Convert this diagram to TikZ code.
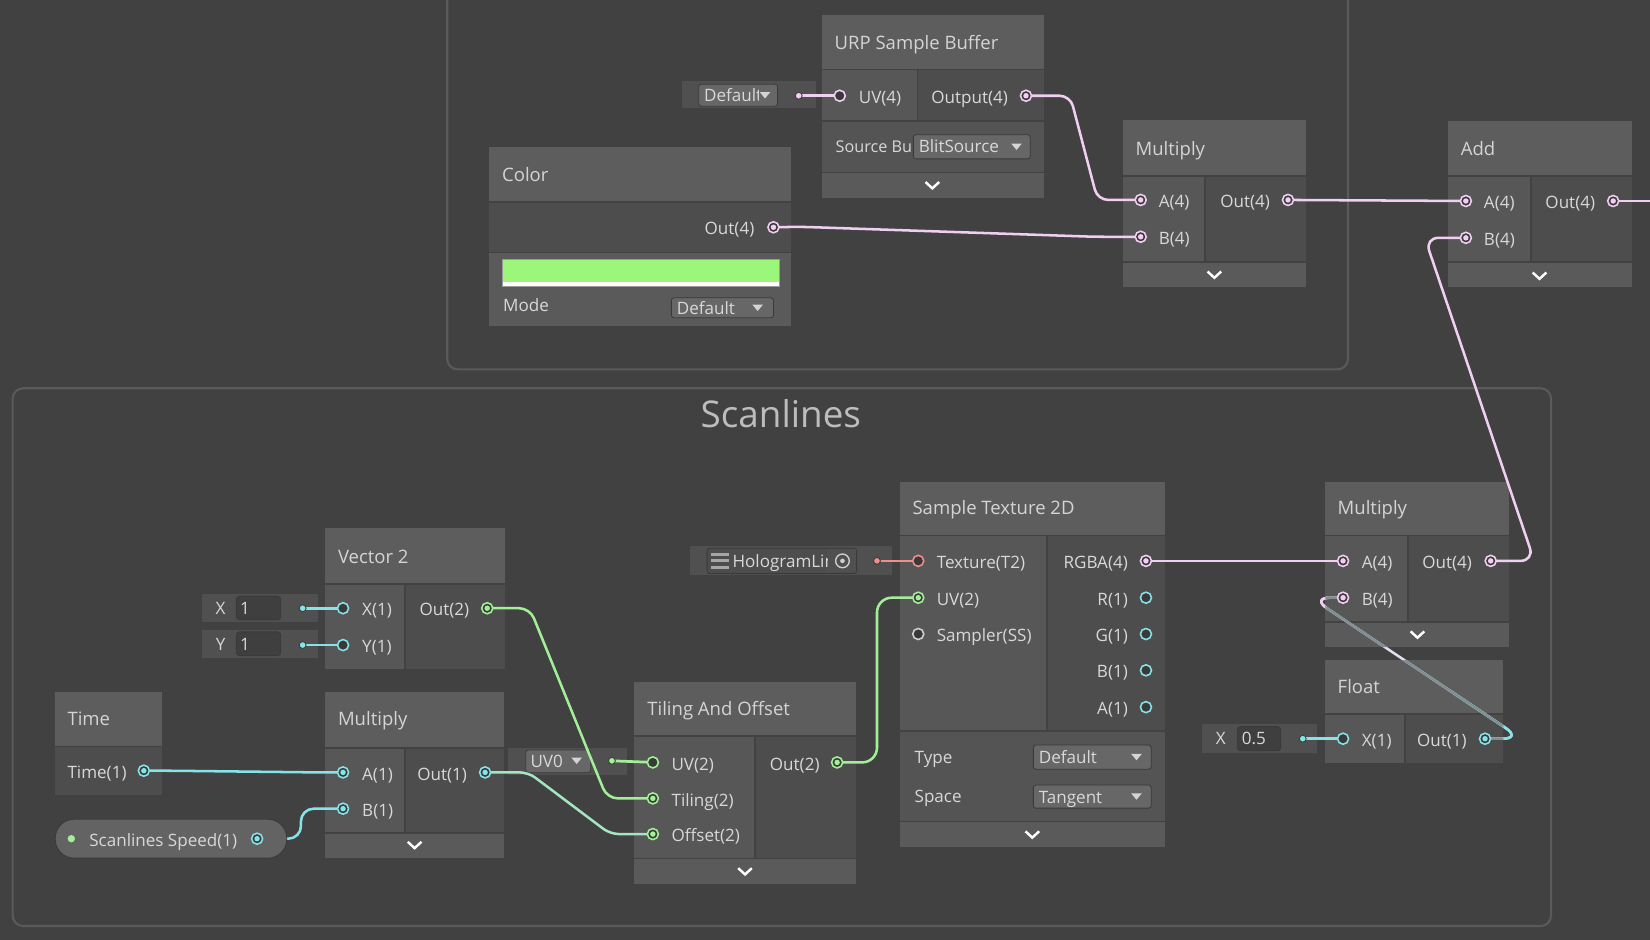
\documentclass[tikz,border=0pt]{standalone}
\usepackage{fontspec}
\setmainfont{Open Sans}
\definecolor{canvas}{HTML}{414141}
\definecolor{grpc}{HTML}{5A5A5A}
\definecolor{ttlf}{HTML}{5D5D5D}
\definecolor{inf}{HTML}{575757}
\definecolor{outf}{HTML}{4D4D4D}
\definecolor{extf}{HTML}{545454}
\definecolor{botf}{HTML}{5A5A5A}
\definecolor{sepc}{HTML}{424242}
\definecolor{labc}{HTML}{D8D8D8}
\definecolor{ttlc}{HTML}{D4D4D4}
\definecolor{ddf}{HTML}{676767}
\definecolor{ddl}{HTML}{3A3A3A}
\definecolor{inlf}{HTML}{505050}
\definecolor{fieldf}{HTML}{3F3F3F}
\definecolor{vpink}{HTML}{F2CFF2}
\definecolor{vcyan}{HTML}{86E3E8}
\definecolor{vgreen}{HTML}{A2EF98}
\definecolor{vteal}{HTML}{A4E6C2}
\definecolor{vsalm}{HTML}{EF8F8C}
\definecolor{vgray}{HTML}{CFCFCF}
\definecolor{holef}{HTML}{393939}
\definecolor{scant}{HTML}{BDBDBD}
\definecolor{swgreen}{HTML}{9CF67A}
\definecolor{edim}{HTML}{808F92}
\definecolor{elight}{HTML}{E4DDF0}
\definecolor{pillf}{HTML}{636363}
\definecolor{tric}{HTML}{D4D4D4}
\pgfdeclarelayer{bg}
\pgfdeclarelayer{edges}
\pgfsetlayers{bg,edges,main}
\newcommand\sgpc[3]{\node[portring, draw=#3] (#1) at (#2) {};\fill[#3] (#1.center) circle (2.6);}
\newcommand\sgph[3]{\node[portring, draw=#3] (#1) at (#2) {};}
\newcommand\sgdot[3]{\node[idot, fill=#3] (#1) at (#2) {};}
\newcommand\sgchev[2]{\draw[chevst] (#1,#2) ++(-6.5,-3) -- ++(6.5,6) -- ++(6.5,-6);}
\newcommand\sgtri[2]{\fill[tric] (#1,#2) ++(-5,-3) -- ++(10,0) -- ++(-5,6) -- cycle;}
\begin{document}
\begin{tikzpicture}[x=1pt,y=-1pt,
  lbl/.style={font=\fontsize{16.2}{19}\selectfont, text=labc, inner sep=0pt, text height=11.6pt, text depth=0pt},
  ttl/.style={font=\fontsize{17.6}{21}\selectfont, text=ttlc, inner sep=0pt, anchor=west, text height=12.6pt, text depth=0pt},
  portring/.style={circle, line width=1.5pt, minimum size=10.5pt, inner sep=0pt, fill=holef},
  idot/.style={circle, minimum size=6.5pt, inner sep=0pt, draw=holef, line width=0.8pt},
  chevst/.style={draw=white, line width=2.3pt},
  sep/.style={draw=sepc, line width=1.6pt},
  grp/.style={draw=grpc, line width=2pt, rounded corners=10pt},
  dd/.style={fill=ddf, draw=ddl, line width=0.8pt, rounded corners=2.5pt},
  fld/.style={fill=fieldf, draw=ddl, line width=0.8pt, rounded corners=3pt},
  edge/.style={line width=2.4pt, rounded corners=10pt},
  inl/.style={line width=2.6pt}]
\useasboundingbox (0,0) rectangle (1568,893);

\begin{pgfonlayer}{bg}
\fill[canvas] (0,0) rectangle (1568,893);
\draw[grp] (425,-30) rectangle (1281,351);
\draw[grp] (12,369) rectangle (1474,880);

% URP Sample Buffer
\fill[ttlf] (781,14) rectangle (992,66);
\fill[inf] (781,66) rectangle (872,115);
\fill[outf] (872,66) rectangle (992,115);
\fill[extf] (781,115) rectangle (992,164);
\fill[botf] (781,164) rectangle (992,188);
\draw[sep] (781,66) -- (992,66) (781,115) -- (992,115) (781,164) -- (992,164) (872,66) -- (872,115);
\fill[dd] (868,128) rectangle (979,151);
\fill[inlf] (648,77) rectangle (775,103);
\fill[dd] (664,80) rectangle (739,101);

% Color
\fill[ttlf] (465,140) rectangle (752,192);
\fill[outf] (465,192) rectangle (752,240);
\fill[botf] (465,240) rectangle (752,310);
\draw[sep] (465,192) -- (752,192) (465,240) -- (752,240);
\fill[swgreen] (477,247) rectangle (741,268);
\fill[white] (477,268) rectangle (741,272);
\draw[draw=gray!80, line width=0.8pt] (477,247) rectangle (741,272);
\fill[dd] (638,283) rectangle (735,302);

% Multiply top
\fill[ttlf] (1067,114) rectangle (1241,167);
\fill[inf] (1067,167) rectangle (1145,249);
\fill[outf] (1145,167) rectangle (1241,249);
\fill[botf] (1067,249) rectangle (1241,273);
\draw[sep] (1067,167) -- (1241,167) (1067,249) -- (1241,249) (1145,167) -- (1145,249);

% Add
\fill[ttlf] (1376,115) rectangle (1551,167);
\fill[inf] (1376,167) rectangle (1455,249);
\fill[outf] (1455,167) rectangle (1551,249);
\fill[botf] (1376,249) rectangle (1551,273);
\draw[sep] (1376,167) -- (1551,167) (1376,249) -- (1551,249) (1455,167) -- (1455,249);

% Vector 2
\fill[ttlf] (309,502) rectangle (480,555);
\fill[inf] (309,555) rectangle (385,636);
\fill[outf] (385,555) rectangle (480,636);
\draw[sep] (309,555) -- (480,555) (385,555) -- (385,636);
\fill[inlf] (192,564.5) rectangle (302,591);
\fill[fld] (224.6,566.5) rectangle (266.8,589);
\fill[inlf] (192,598.7) rectangle (302,625);
\fill[fld] (224.6,600.5) rectangle (266.8,623);

% Time
\fill[ttlf] (52.4,658) rectangle (154.4,709.5);
\fill[outf] (52.4,709.5) rectangle (154.4,755.5);
\draw[sep] (52.4,709.5) -- (154.4,709.5);

% Multiply scan
\fill[ttlf] (309,658) rectangle (479,710.5);
\fill[inf] (309,710.5) rectangle (385,791.3);
\fill[outf] (385,710.5) rectangle (479,791.3);
\fill[botf] (309,791.3) rectangle (479,815.7);
\draw[sep] (309,710.5) -- (479,710.5) (309,791.3) -- (479,791.3) (385,710.5) -- (385,791.3);

% UV0 inline
\fill[inlf] (482.6,710.5) rectangle (595.6,736.8);
\fill[dd] (499.6,712.7) rectangle (561.4,734.3);

% Tiling And Offset
\fill[ttlf] (602.8,647.8) rectangle (813,699.4);
\fill[inf] (602.8,699.4) rectangle (717.5,815.7);
\fill[outf] (717.5,699.4) rectangle (813,815.7);
\fill[botf] (602.8,815.7) rectangle (813,840);
\draw[sep] (602.8,699.4) -- (813,699.4) (602.8,815.7) -- (813,815.7) (717.5,699.4) -- (717.5,815.7);

% Sample Texture 2D
\fill[ttlf] (855.6,458.4) rectangle (1106.7,509);
\fill[inf] (855.6,509) rectangle (994.8,694.7);
\fill[outf] (994.8,509) rectangle (1106.7,694.7);
\fill[extf] (855.6,694.7) rectangle (1106.7,780.8);
\fill[botf] (855.6,780.8) rectangle (1106.7,804.6);
\draw[sep] (855.6,509) -- (1106.7,509) (855.6,694.7) -- (1106.7,694.7) (855.6,780.8) -- (1106.7,780.8) (994.8,509) -- (994.8,694.7);
\fill[dd] (982,708) rectangle (1094,731);
\fill[dd] (982,746) rectangle (1094,768);
\fill[inlf] (655.7,519) rectangle (848,546.5);
\fill[fill=outf, draw=ddl, line width=0.8pt, rounded corners=2.5pt] (672,521) rectangle (814,545);
\fill[fill=inlf] (786,522) rectangle (813,544);

% Multiply right
\fill[ttlf] (1259.5,457.7) rectangle (1434,509);
\fill[inf] (1259.5,509) rectangle (1338.3,590.8);
\fill[outf] (1338.3,509) rectangle (1434,590.8);
\fill[botf] (1259.5,590.8) rectangle (1434,615);
\draw[sep] (1259.5,509) -- (1434,509) (1259.5,590.8) -- (1434,590.8) (1338.3,509) -- (1338.3,590.8);

% Float
\fill[ttlf] (1259.5,627.2) rectangle (1428.6,678.8);
\fill[inf] (1259.5,678.8) rectangle (1335.2,725.4);
\fill[outf] (1335.2,678.8) rectangle (1428.6,725.4);
\draw[sep] (1259.5,678.8) -- (1428.6,678.8) (1335.2,678.8) -- (1335.2,725.4);
\fill[inlf] (1142.6,688.4) rectangle (1251.8,715.3);
\fill[fld] (1175.8,690.5) rectangle (1217,713.5);
\end{pgfonlayer}

% ---------- Scanlines title
\node[font=\fontsize{35}{40}\selectfont, text=scant, inner sep=0pt, text height=25pt, text depth=0pt] (scanT) at (742,394) {Scanlines};

% ---------- URP Sample Buffer
\node[ttl] (urpT) at (793,41) {URP Sample Buffer};
\node[lbl, anchor=west] (urpUVl) at (816,92.5) {UV(4)};
\node[lbl, anchor=east] (urpOutl) at (958,92.5) {Output(4)};
\node[lbl, anchor=west, font=\fontsize{15.4}{18}\selectfont] (urpSrc) at (794,139.5) {Source Bu};
\node[lbl, anchor=west] (urpDD) at (873,139.5) {BlitSource};
\sgtri{966}{139.5}
\sgchev{886}{176}
\begin{scope}
\clip (664,80) rectangle (721,101);
\node[lbl, anchor=west] (dfltT) at (669,91) {Default};
\end{scope}
\sgtri{727}{90.5}
\sgph{urpUV}{798,91}{vpink}
\sgpc{urpOut}{975,91}{vpink}
\sgdot{dfltDot}{759,91}{vpink}

% ---------- Color
\node[ttl] (colT) at (477,166) {Color};
\node[lbl, anchor=east] (colOutl) at (717,217.5) {Out(4)};
\node[lbl, anchor=west] (colMode) at (478,290.5) {Mode};
\node[lbl, anchor=west] (colDD) at (643,293) {Default};
\sgtri{720}{292.5}
\sgpc{colOut}{735,216}{vpink}

% ---------- Multiply top
\node[ttl] (mtT) at (1079,141) {Multiply};
\node[lbl, anchor=west] (mtAl) at (1101,191.5) {A(4)};
\node[lbl, anchor=west] (mtBl) at (1101,226.5) {B(4)};
\node[lbl, anchor=east] (mtOutl) at (1207,191.5) {Out(4)};
\sgchev{1154}{261}
\sgpc{mtA}{1084,190}{vpink}
\sgpc{mtB}{1084,225}{vpink}
\sgpc{mtOut}{1224,190}{vpink}

% ---------- Add
\node[ttl] (adT) at (1388,141) {Add};
\node[lbl, anchor=west] (adAl) at (1410,192.5) {A(4)};
\node[lbl, anchor=west] (adBl) at (1410,227.5) {B(4)};
\node[lbl, anchor=east] (adOutl) at (1516,192.5) {Out(4)};
\sgchev{1463}{262}
\sgpc{adA}{1393,191}{vpink}
\sgpc{adB}{1393,226}{vpink}
\sgpc{adOut}{1533,191}{vpink}
\coordinate (offR) at (1570,191);

% ---------- Vector 2
\node[ttl] (v2T) at (321,529) {Vector 2};
\node[lbl, anchor=west] (v2Xl) at (344,579.5) {X(1)};
\node[lbl, anchor=west] (v2Yl) at (344,614.5) {Y(1)};
\node[lbl, anchor=east] (v2Outl) at (446,579.5) {Out(2)};
\node[lbl, anchor=center] (xlab) at (209.6,578) {X};
\node[lbl, anchor=west] (xval) at (228,578) {1};
\node[lbl, anchor=center] (ylab) at (209.6,612) {Y};
\node[lbl, anchor=west] (yval) at (228,612) {1};
\sgph{v2X}{326,578}{vcyan}
\sgph{v2Y}{326,613}{vcyan}
\sgpc{v2Out}{463,578}{vgreen}
\sgdot{xDot}{287.6,578}{vcyan}
\sgdot{yDot}{287.6,613}{vcyan}

% ---------- Time
\node[ttl] (tmT) at (64,683) {Time};
\node[lbl, anchor=west] (tmOutl) at (64,734) {Time(1)};
\sgpc{tmOut}{136.7,732.4}{vcyan}

% ---------- Scanlines Speed property
\node[fill=pillf, draw=ddl, line width=0.8pt, rounded corners=18pt, minimum width=220pt, minimum height=37pt, inner sep=0pt] (spd) at (162.5,797) {};
\fill[vgreen] (67.8,797) circle (3.5);
\node[lbl, anchor=west] (spdl) at (84.7,798.5) {Scanlines Speed(1)};
\sgpc{spdOut}{244.3,797}{vcyan}
\coordinate (spdE) at (272,797);

% ---------- Multiply scan
\node[ttl] (msT) at (321,683) {Multiply};
\node[lbl, anchor=west] (msAl) at (344,735.5) {A(1)};
\node[lbl, anchor=west] (msBl) at (344,770) {B(1)};
\node[lbl, anchor=east] (msOutl) at (444,735.5) {Out(1)};
\sgchev{394}{803}
\sgpc{msA}{326,734}{vcyan}
\sgpc{msB}{326,768.5}{vcyan}
\sgpc{msOut}{461,734}{vcyan}

% ---------- UV0
\node[lbl, anchor=west] (uv0l) at (504,723.5) {UV0};
\sgtri{548}{723}
\sgdot{uvDot}{581.5,723}{vgreen}

% ---------- Tiling And Offset
\node[ttl] (toT) at (615,674) {Tiling And Offset};
\node[lbl, anchor=west] (toUVl) at (638,726) {UV(2)};
\node[lbl, anchor=west] (toTl) at (638,760.2) {Tiling(2)};
\node[lbl, anchor=west] (toOl) at (638,794.1) {Offset(2)};
\node[lbl, anchor=east] (toOutl) at (779,726) {Out(2)};
\sgchev{708}{828}
\sgph{toUV}{620.4,724.5}{vgreen}
\sgpc{toTil}{620.4,758.7}{vgreen}
\sgpc{toOff}{620.4,792.6}{vgreen}
\sgpc{toOut}{795.5,724.5}{vgreen}

% ---------- Sample Texture 2D
\node[ttl] (stT) at (867,483) {Sample Texture 2D};
\node[lbl, anchor=west] (stTexl) at (890,534.5) {Texture(T2)};
\node[lbl, anchor=west] (stUVl) at (890,569.5) {UV(2)};
\node[lbl, anchor=west] (stSSl) at (890,604) {Sampler(SS)};
\node[lbl, anchor=east] (stRGBAl) at (1072,534.5) {RGBA(4)};
\node[lbl, anchor=east] (stRl) at (1072,569.5) {R(1)};
\node[lbl, anchor=east] (stGl) at (1072,604) {G(1)};
\node[lbl, anchor=east] (stBl) at (1072,638.5) {B(1)};
\node[lbl, anchor=east] (stAl) at (1072,673.4) {A(1)};
\node[lbl, anchor=west] (stType) at (869,720) {Type};
\node[lbl, anchor=west] (stSpace) at (869,757) {Space};
\node[lbl, anchor=west] (stTypeDD) at (987,720) {Default};
\node[lbl, anchor=west] (stSpaceDD) at (987,757.5) {Tangent};
\sgtri{1080}{719.5}
\sgtri{1080}{757}
\sgchev{981}{793}
\sgph{stTex}{872.6,533}{vsalm}
\sgpc{stUV}{872.6,568}{vgreen}
\sgph{stSS}{872.6,602.5}{vgray}
\sgpc{stRGBA}{1089,533}{vpink}
\sgph{stR}{1089,568}{vcyan}
\sgph{stG}{1089,602.5}{vcyan}
\sgph{stB}{1089,637}{vcyan}
\sgph{stA}{1089,672}{vcyan}
% texture field
\fill[gray!70] (676,525.5) rectangle (693,528.5);
\fill[gray!70] (676,531.5) rectangle (693,534.5);
\fill[gray!70] (676,537.5) rectangle (693,540.5);
\begin{scope}
\clip (694,521) rectangle (786,545);
\node[lbl, anchor=west] (holoT) at (696,533.5) {HologramLines};
\end{scope}
\node[circle, draw=vgray, line width=1.3pt, minimum size=13pt, inner sep=0pt] (holoTgt) at (800.6,533) {};
\fill[vgray] (holoTgt.center) circle (2.2);
\sgdot{holoDot}{833.4,533}{vsalm}

% ---------- Multiply right
\node[ttl] (mrT) at (1271,483) {Multiply};
\node[lbl, anchor=west] (mrAl) at (1294,534.5) {A(4)};
\node[lbl, anchor=west] (mrBl) at (1294,569.5) {B(4)};
\node[lbl, anchor=east] (mrOutl) at (1399,534.5) {Out(4)};
\sgchev{1347}{603}
\sgpc{mrA}{1276.3,533}{vpink}
\sgpc{mrB}{1276.3,568}{vpink}
\sgpc{mrOut}{1416.6,533}{vpink}

% ---------- Float
\node[ttl] (flT) at (1271,653) {Float};
\node[lbl, anchor=west] (flXl) at (1294,703.5) {X(1)};
\node[lbl, anchor=east] (flOutl) at (1394,703.5) {Out(1)};
\node[lbl, anchor=center] (fxlab) at (1160,702) {X};
\node[lbl, anchor=west] (fxval) at (1180,702) {0.5};
\sgph{flX}{1276.3,702}{vcyan}
\sgpc{flOut}{1411.2,702}{vcyan}
\sgdot{fxDot}{1238,702}{vcyan}

% ---------- Edges
\begin{pgfonlayer}{edges}
\draw[inl, vpink] (dfltDot.center) -- (urpUV.center);
\draw[inl, vcyan] (xDot.center) -- (v2X.center);
\draw[inl, vcyan] (yDot.center) -- (v2Y.center);
\draw[inl, vgreen] (uvDot.center) -- (toUV.center);
\draw[inl, vsalm] (holoDot.center) -- (stTex.center);
\draw[inl, vcyan] (fxDot.center) -- (flX.center);

\draw[edge, vpink] (urpOut.center) -- (1017,91) -- (1043,190) -- (mtA.center);
\draw[edge, vpink] (colOut.center) -- (760,215.5) -- (1040,225) -- (mtB.center);
\draw[edge, vpink] (mtOut.center) -- (adA.center);
\draw[edge, vpink] (adOut.center) -- (offR);
\draw[edge, vpink, rounded corners=13pt] (mrOut.center) -- (1458,533) -- (1354,226) -- (adB.center);
\draw[edge, vpink] (stRGBA.center) -- (mrA.center);
\draw[edge, vgreen] (v2Out.center) -- (503.5,578) -- (577,758.7) -- (toTil.center);
\draw[edge, vteal, rounded corners=8pt] (msOut.center) -- (502,734) -- (580,792.6) -- (toOff.center);
\draw[edge, vgreen, rounded corners=14pt] (toOut.center) -- (833.4,724.5) -- (833.4,568) -- (stUV.center);
\draw[edge, vcyan] (tmOut.center) -- (160,732.4) -- (300,734) -- (msA.center);
\draw[edge, vcyan, rounded corners=12pt] (spdE) -- (286,797) -- (286,768.5) -- (msB.center);

\draw[edge, elight, rounded corners=18pt] (mrB.center) -- (1246,568) -- (1446,702) -- (flOut.center);
\begin{scope}
\clip (1380,640) rectangle (1470,720);
\draw[edge, vcyan, rounded corners=18pt] (mrB.center) -- (1246,568) -- (1446,702) -- (flOut.center);
\end{scope}
\begin{scope}
\clip (1200,555) rectangle (1262,590);
\draw[edge, vpink, rounded corners=18pt] (mrB.center) -- (1246,568) -- (1446,702) -- (flOut.center);
\end{scope}
\begin{scope}
\clip (1259.5,457.7) rectangle (1434,615) (1259.5,627.2) rectangle (1428.6,725.4);
\draw[edge, edim, rounded corners=18pt] (mrB.center) -- (1246,568) -- (1446,702) -- (flOut.center);
\end{scope}
\end{pgfonlayer}
\end{tikzpicture}
\end{document}
